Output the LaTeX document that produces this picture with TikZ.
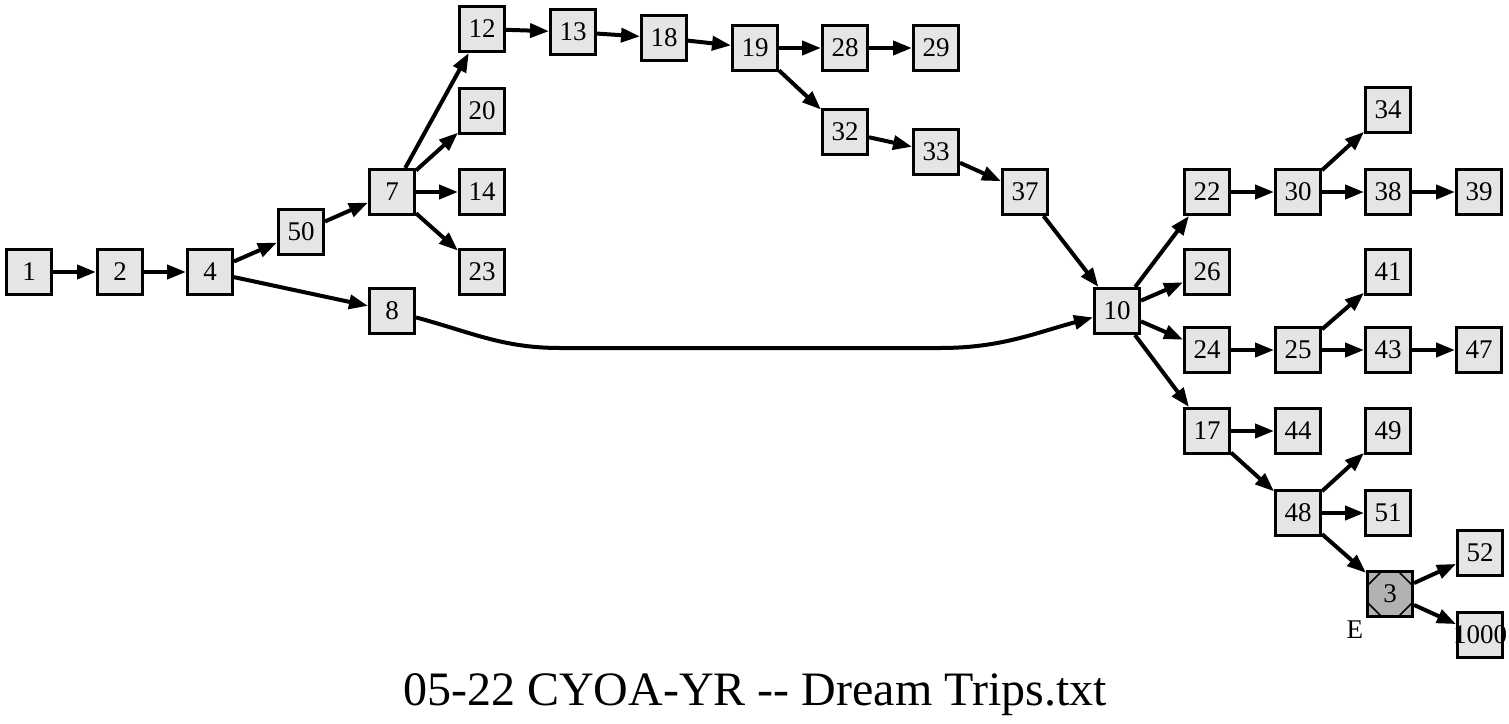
\documentclass[tikz,border=0pt]{standalone}
\usepackage{fontspec}
\setmainfont{Liberation Serif}
\usepackage{tikz}
\usetikzlibrary{arrows.meta}
\newcommand{\nodefont}{\fontsize{27}{31}\selectfont}
\newcommand{\titlefont}{\fontsize{48}{56}\selectfont}

\begin{document}
\begin{tikzpicture}[x=1pt, y=1pt, font=\nodefont, line width=4pt, ->, >={Triangle[length=19pt,width=14pt]},
  box/.style={draw, rectangle, fill=gray!20, line width=3pt, minimum size=45pt, inner sep=0pt},
  endbox/.style={box, fill=gray!60, path picture={
    \draw[-, line width=1.5pt] ([xshift=14pt]path picture bounding box.north west) -- ([yshift=-14pt]path picture bounding box.north west);
    \draw[-, line width=1.5pt] ([xshift=-14pt]path picture bounding box.north east) -- ([yshift=-14pt]path picture bounding box.north east);
    \draw[-, line width=1.5pt] ([xshift=14pt]path picture bounding box.south west) -- ([yshift=14pt]path picture bounding box.south west);
    \draw[-, line width=1.5pt] ([xshift=-14pt]path picture bounding box.south east) -- ([yshift=14pt]path picture bounding box.south east);}}]

\useasboundingbox (0,0) rectangle (1509,-723);

\node[box] (n1) at (29,-272) {1};
\node[box] (n2) at (120,-272) {2};
\node[box] (n4) at (210,-272) {4};
\node[box] (n50) at (301,-232) {50};
\node[box] (n7) at (392,-192) {7};
\node[box] (n8) at (392,-311) {8};
\node[box] (n12) at (482,-29) {12};
\node[box] (n20) at (482,-111) {20};
\node[box] (n14) at (482,-192) {14};
\node[box] (n23) at (482,-272) {23};
\node[box] (n13) at (573,-32) {13};
\node[box] (n18) at (664,-38) {18};
\node[box] (n19) at (755,-48) {19};
\node[box] (n28) at (845,-48) {28};
\node[box] (n29) at (936,-48) {29};
\node[box] (n32) at (845,-132) {32};
\node[box] (n33) at (936,-152) {33};
\node[box] (n37) at (1025,-192) {37};
\node[box] (n10) at (1117,-311) {10};
\node[box] (n22) at (1207,-192) {22};
\node[box] (n26) at (1207,-272) {26};
\node[box] (n24) at (1207,-350) {24};
\node[box] (n17) at (1207,-431) {17};
\node[box] (n30) at (1298,-192) {30};
\node[box] (n25) at (1298,-350) {25};
\node[box] (n44) at (1298,-431) {44};
\node[box] (n48) at (1298,-513) {48};
\node[box] (n34) at (1388,-110) {34};
\node[box] (n38) at (1388,-192) {38};
\node[box] (n41) at (1388,-272) {41};
\node[box] (n43) at (1388,-350) {43};
\node[box] (n49) at (1388,-431) {49};
\node[box] (n51) at (1388,-513) {51};
\node[endbox, label={[inner sep=1pt]south west:E}] (n3) at (1390,-594) {3};
\node[box] (n39) at (1479,-192) {39};
\node[box] (n47) at (1479,-350) {47};
\node[box] (n52) at (1480,-553) {52};
\node[box] (n1000) at (1480,-635) {\makebox[0pt]{1000}};

\coordinate (c1) at (560,-348);
\coordinate (c2) at (940,-348);

\draw (n1) -- (n2);
\draw (n2) -- (n4);
\draw (n4) -- (n50);
\draw (n4) -- (n8);
\draw (n50) -- (n7);
\draw (n7) -- (n12);
\draw (n7) -- (n20);
\draw (n7) -- (n14);
\draw (n7) -- (n23);
\draw (n12) -- (n13);
\draw (n13) -- (n18);
\draw (n18) -- (n19);
\draw (n19) -- (n28);
\draw (n28) -- (n29);
\draw (n19) -- (n32);
\draw (n32) -- (n33);
\draw (n33) -- (n37);
\draw (n37) -- (n10);
\draw (n8) to[out=-15, in=180] (c1) -- (c2) to[out=0, in=-165] (n10);
\draw (n10) -- (n22);
\draw (n10) -- (n26);
\draw (n10) -- (n24);
\draw (n10) -- (n17);
\draw (n22) -- (n30);
\draw (n30) -- (n34);
\draw (n30) -- (n38);
\draw (n38) -- (n39);
\draw (n24) -- (n25);
\draw (n25) -- (n41);
\draw (n25) -- (n43);
\draw (n43) -- (n47);
\draw (n17) -- (n44);
\draw (n17) -- (n48);
\draw (n48) -- (n49);
\draw (n48) -- (n51);
\draw (n48) -- (n3);
\draw (n3) -- (n52);
\draw (n3) -- (n1000);

\node[font=\titlefont, anchor=base] (title) at (755,-705) {05-22 CYOA-YR -{}- Dream Trips.txt};

\end{tikzpicture}
\end{document}
